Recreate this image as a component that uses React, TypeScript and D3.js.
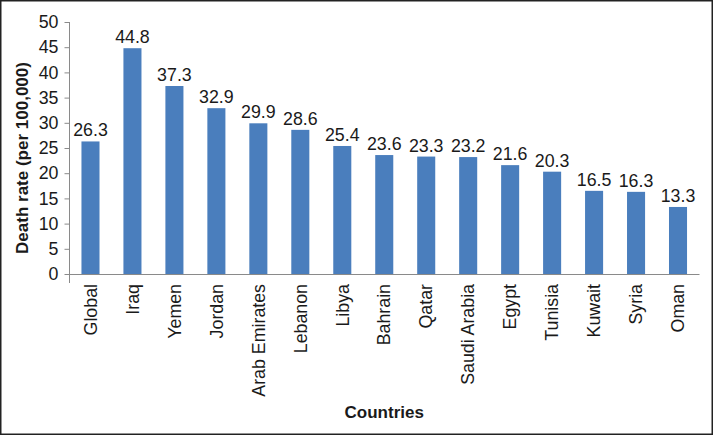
import { useRef, useEffect } from "react";
import * as d3 from "d3";

const countries = [
  "Global",
  "Iraq",
  "Yemen",
  "Jordan",
  "Arab Emirates",
  "Lebanon",
  "Libya",
  "Bahrain",
  "Qatar",
  "Saudi Arabia",
  "Egypt",
  "Tunisia",
  "Kuwait",
  "Syria",
  "Oman",
];
const deathRates = [26.3, 44.8, 37.3, 32.9, 29.9, 28.6, 25.4, 23.6, 23.3, 23.2, 21.6, 20.3, 16.5, 16.3, 13.3];
const yTicks = [0, 5, 10, 15, 20, 25, 30, 35, 40, 45, 50];

const width = 713;
const height = 435;
const marginLeft = 69.5;
const marginRight = 14;
const marginTop = 22;
const marginBottom = 161;
const font = "Arial, 'Liberation Sans', Helvetica, sans-serif";
const labelSize = 17.8;

export default function App() {
  const svgRef = useRef(null);

  useEffect(() => {
    const svg = d3.select(svgRef.current);
    svg.selectAll("*").remove();

    const data = countries.map((c, i) => ({ name: c, value: deathRates[i] }));
    const plotW = width - marginLeft - marginRight;
    const plotH = height - marginTop - marginBottom;

    const x = d3.scaleBand().domain(countries).range([0, plotW]).paddingInner(0.57).paddingOuter(0.285);
    const y = d3.scaleLinear().domain([0, 50]).range([plotH, 0]);

    // frame
    svg
      .append("rect")
      .attr("x", 0.75)
      .attr("y", 0.75)
      .attr("width", width - 1.5)
      .attr("height", height - 1.5)
      .attr("fill", "white")
      .attr("stroke", "#222")
      .attr("stroke-width", 1.5);

    const g = svg.append("g").attr("transform", `translate(${marginLeft},${marginTop})`);

    g.selectAll("rect.bar")
      .data(data)
      .enter()
      .append("rect")
      .attr("class", "bar")
      .attr("x", (d) => x(d.name))
      .attr("y", (d) => y(d.value))
      .attr("width", x.bandwidth())
      .attr("height", (d) => plotH - y(d.value))
      .attr("fill", "#4a7ebd");

    g.selectAll("text.val")
      .data(data)
      .enter()
      .append("text")
      .attr("class", "val")
      .attr("x", (d) => x(d.name) + x.bandwidth() / 2)
      .attr("y", (d) => y(d.value) - 5)
      .attr("text-anchor", "middle")
      .attr("font-family", font)
      .attr("font-size", labelSize)
      .attr("fill", "#1a1a1a")
      .text((d) => d.value.toFixed(1));

    // y axis
    const yAxis = g
      .append("g")
      .call(d3.axisLeft(y).tickValues(yTicks).tickSize(5).tickPadding(6));
    yAxis.select(".domain").remove();
    yAxis.selectAll("line").attr("stroke", "#8a8a8a");
    yAxis
      .selectAll("text")
      .attr("font-family", font)
      .attr("font-size", labelSize)
      .attr("fill", "#1a1a1a");
    g.append("line")
      .attr("x1", 0)
      .attr("x2", 0)
      .attr("y1", 0)
      .attr("y2", plotH + 9)
      .attr("stroke", "#8a8a8a");

    // x axis
    const xAxis = g
      .append("g")
      .attr("transform", `translate(0,${plotH})`)
      .call(d3.axisBottom(x).tickSize(0).tickPadding(0));
    xAxis.select(".domain").attr("stroke", "#8a8a8a");
    xAxis
      .selectAll("text")
      .attr("font-family", font)
      .attr("font-size", labelSize)
      .attr("fill", "#1a1a1a")
      .attr("text-anchor", "end")
      .attr("transform", "translate(0,10) rotate(-90)")
      .attr("x", 0)
      .attr("y", 0)
      .attr("dy", "0.35em");

    // axis titles
    svg
      .append("text")
      .attr("transform", `translate(22,${158}) rotate(-90)`)
      .attr("text-anchor", "middle")
      .attr("dy", "0.35em")
      .attr("font-family", font)
      .attr("font-size", 17)
      .attr("font-weight", "bold")
      .attr("fill", "#1a1a1a")
      .text("Death rate (per 100,000)");

    svg
      .append("text")
      .attr("x", marginLeft + plotW / 2)
      .attr("y", 418)
      .attr("text-anchor", "middle")
      .attr("font-family", font)
      .attr("font-size", 17)
      .attr("font-weight", "bold")
      .attr("fill", "#1a1a1a")
      .text("Countries");
  }, []);

  return (
    <svg
      ref={svgRef}
      width={width}
      height={height}
      style={{ position: "absolute", left: 0, top: 0, display: "block" }}
    />
  );
}
